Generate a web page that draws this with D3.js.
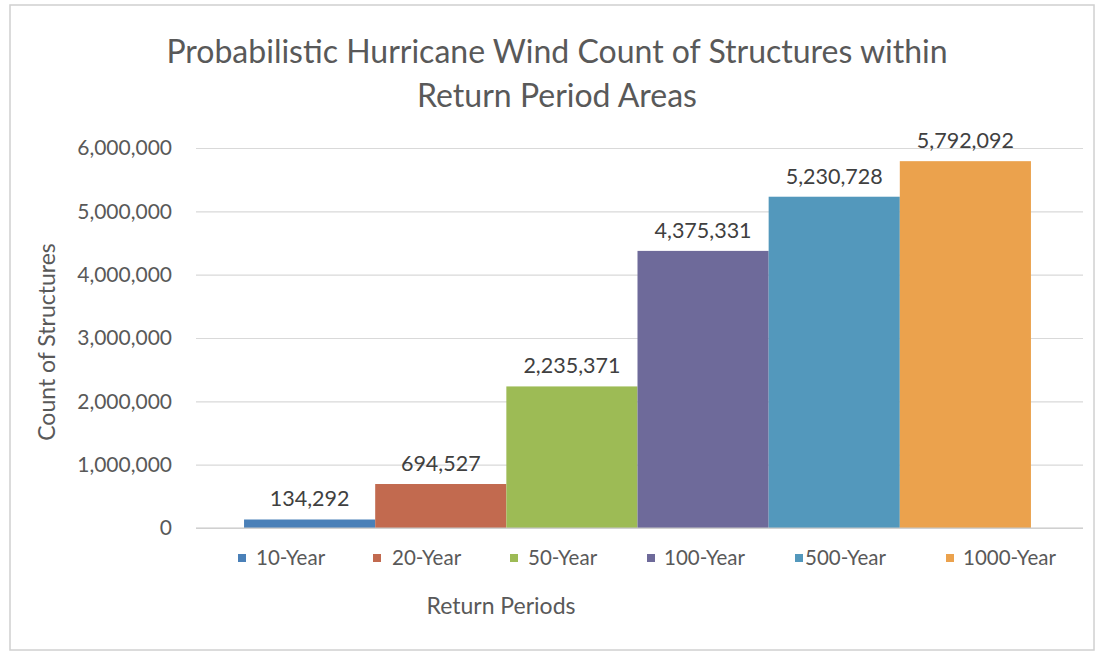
<!DOCTYPE html>
<html><head><meta charset="utf-8">
<script src="https://cdn.jsdelivr.net/npm/d3@7"></script>
<style>body{margin:0;background:#fff;} svg{display:block;} text{font-family:Lato,"Open Sans",sans-serif;}</style>
</head><body><svg id="c" width="1099" height="654"></svg>
<script>
const categories = ["10-Year","20-Year","50-Year","100-Year","500-Year","1000-Year"];
const values = [134292, 694527, 2235371, 4375331, 5230728, 5792092];
const colors = ["#4a80b8","#c26a4f","#9dbb55","#6e6a9a","#5398bc","#eba24d"];
const yTicks = [0,1000000,2000000,3000000,4000000,5000000,6000000];
const titleLines = ["Probabilistic Hurricane Wind Count of Structures within","Return Period Areas"];

const svg = d3.select("#c");
const txt = "#595959";
svg.append("rect").attr("x",10).attr("y",5).attr("width",1084).attr("height",645)
  .attr("fill","#fff").attr("stroke","#d0d0d0").attr("stroke-width",1.5);

const L=196, R=1083, T=148, B=528;
const y = d3.scaleLinear().domain([0,6000000]).range([B,T]);
const outer = d3.scaleBand().domain(["all"]).range([L,R]).paddingInner(0).paddingOuter(0.0636).align(0.48);
const x = d3.scaleBand().domain(categories).range([outer("all"), outer("all")+outer.bandwidth()]).padding(0);

// gridlines
const ya = svg.append("g").attr("transform",`translate(${L},0)`)
  .call(d3.axisLeft(y).tickValues(yTicks).tickSize(-(R-L)).tickPadding(24).tickFormat(d3.format(",")));
ya.select(".domain").remove();
ya.selectAll(".tick line").attr("stroke","#d9d9d9").attr("stroke-width",1.2);
ya.selectAll(".tick text").attr("fill",txt).style("font-size","21px");

// bars
svg.selectAll("rect.bar").data(values).join("rect").attr("class","bar")
  .attr("x",(d,i)=>x(categories[i])).attr("width",x.bandwidth())
  .attr("y",d=>y(d)).attr("height",d=>B-y(d)).attr("fill",(d,i)=>colors[i]);

// baseline
svg.append("line").attr("x1",L).attr("x2",R).attr("y1",B).attr("y2",B).attr("stroke","#c8c8c8").attr("stroke-width",1.2);

// data labels
svg.selectAll("text.lbl").data(values).join("text").attr("class","lbl")
  .attr("x",(d,i)=>x(categories[i])+x.bandwidth()/2).attr("y",d=>y(d)-13)
  .attr("text-anchor","middle").attr("fill","#404040").style("font-size","21.5px")
  .text(d=>d3.format(",")(d));

// title
svg.selectAll("text.title").data(titleLines).join("text").attr("class","title")
  .attr("x",557).attr("y",(d,i)=>63+i*44).attr("text-anchor","middle")
  .attr("fill",txt).style("font-size","32px").text(d=>d);

// y axis title
svg.append("text").attr("transform","translate(55,342) rotate(-90)").attr("text-anchor","middle")
  .attr("fill",txt).style("font-size","23px").text("Count of Structures");

// x axis title
svg.append("text").attr("x",501).attr("y",614).attr("text-anchor","middle")
  .attr("fill",txt).style("font-size","23px").text("Return Periods");

// legend
const legSq = [238,373,510,647,795,946];
const legTx = [256,392,528,664,805,963];
const lg = svg.selectAll("g.leg").data(categories).join("g").attr("class","leg");
lg.append("rect").attr("x",(d,i)=>legSq[i]).attr("y",554).attr("width",8).attr("height",8).attr("fill",(d,i)=>colors[i]);
lg.append("text").attr("x",(d,i)=>legTx[i]).attr("y",565).attr("fill",txt).style("font-size","20.5px").text(d=>d);
</script></body></html>
